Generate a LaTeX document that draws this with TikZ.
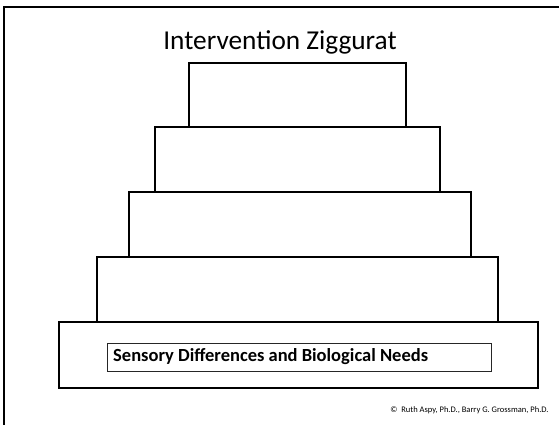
\documentclass[tikz,border=0pt]{standalone}
\usepackage{fontspec}
\setmainfont{Carlito}
\usetikzlibrary{positioning}
\tikzset{
  tier/.style={draw=black,line width=1.6pt,fill=white,inner sep=0pt,
               outer sep=0pt,minimum height=65pt},
  needbox/.style={draw=black!85,line width=0.8pt,inner sep=0pt,outer sep=0pt,
                  minimum width=384pt,minimum height=28pt},
  needlbl/.style={font=\fontsize{18.5}{22}\selectfont\bfseries,anchor=west,inner sep=0pt},
  ttl/.style={font=\fontsize{27.3}{32}\selectfont,inner sep=0pt},
  credit/.style={font=\fontsize{8.5}{10}\selectfont,inner sep=0pt},
}

\begin{document}
\begin{tikzpicture}[x=1pt,y=-1pt]
    \useasboundingbox (0,0) rectangle (559,424);
    % slide frame, runs off the right and bottom edge
    \draw[line width=2.6pt] (4,440) |- (575,7);
    % title
    \node[ttl] (title) at (280,42) {Intervention Ziggurat};
    % the five tiers, stacked top down
    \node[tier,minimum width=217pt,minimum height=64pt] (tier1) at (297.5,95) {};
    \node[tier,minimum width=285pt,below=0pt of tier1] (tier2) {};
    \node[tier,minimum width=342pt,below=0pt of tier2,xshift=2.5pt] (tier3) {};
    \node[tier,minimum width=401pt,below=0pt of tier3,xshift=-2.5pt] (tier4) {};
    \node[tier,minimum width=479pt,minimum height=66pt,below=0pt of tier4,xshift=1pt] (tier5) {};
    % base label
    \node[needbox] (needs) at (299,357) {};
    \node[needlbl,right=6pt of needs.west] (needstxt) {Sensory Differences and Biological Needs};
    % credit line
    \node[credit] (copy) at (469.5,410) {\textcopyright\ \ Ruth Aspy, Ph.D., Barry G. Grossman, Ph.D.};
  \end{tikzpicture}
\end{document}
